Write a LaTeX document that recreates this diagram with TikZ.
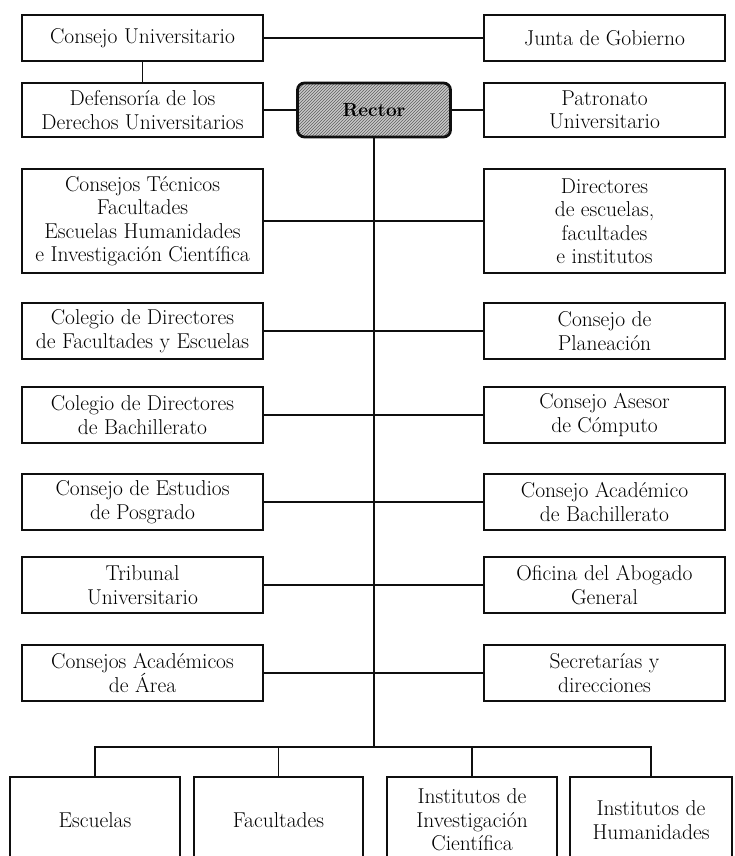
\documentclass[tikz,border=0pt]{standalone}
\usepackage{fontspec}
\usepackage{xcolor}
\usepackage{tikz}
\usetikzlibrary{positioning, patterns}
\definecolor{ink}{RGB}{15, 15, 15}
\definecolor{shade}{RGB}{200, 200, 200}
\definecolor{hatch}{RGB}{95, 95, 95}

\begin{document}
\begin{tikzpicture}[x=1pt, y=-1pt,
            unit/.style={rectangle, draw=ink, line width=1.3pt, minimum width=241pt, minimum height=#1, inner sep=1pt, outer sep=0pt, align=center, font=\fontsize{21.5}{23.5}\selectfont},
            unit/.default=56pt,
            base/.style={unit=86pt, minimum width=#1, anchor=north},
            head/.style={rectangle, rounded corners=7pt, draw=ink, line width=2.8pt, minimum width=153pt, minimum height=54pt, outer sep=0pt, preaction={fill=shade}, pattern=north east lines, pattern color=hatch, font=\bfseries\fontsize{19}{21}\selectfont},
            link/.style={draw=ink, line width=1.6pt}
        ]
            \clip (0,0) rectangle (734,856);

            % left column
            \node (consejo) [unit=46pt] at (142.5,38) {Consejo Universitario};
            \node (defensoria) [unit=54pt] at (142.5,110) {Defensoría de los\\Derechos Universitarios};
            \node (tecnicos) [unit=104pt] at (142.5,221) {Consejos Técnicos\\Facultades\\Escuelas Humanidades\\e Investigación Científica};
            \node (colfac) [unit] at (142.5,331) {Colegio de Directores\\de Facultades y Escuelas};
            \node (colbach) [unit] at (142.5,415) {Colegio de Directores\\de Bachillerato};
            \node (posgrado) [unit] at (142.5,502) {Consejo de Estudios\\de Posgrado};
            \node (tribunal) [unit] at (142.5,585) {Tribunal\\Universitario};
            \node (areas) [unit] at (142.5,673) {Consejos Académicos\\de Área};

            % right column
            \node (junta) [unit=46pt, right=221pt of consejo] {Junta de Gobierno};
            \node (rector) [head, right=34.5pt of defensoria] {Rector};
            \node (patronato) [unit=54pt, right=221pt of defensoria] {Patronato\\Universitario};
            \node (directores) [unit=104pt, right=221pt of tecnicos] {Directores\\de escuelas,\\facultades\\e institutos};
            \node (planeacion) [unit, right=221pt of colfac] {Consejo de\\Planeación};
            \node (computo) [unit, right=221pt of colbach] {Consejo Asesor\\de Cómputo};
            \node (acadbach) [unit, right=221pt of posgrado] {Consejo Académico\\de Bachillerato};
            \node (abogado) [unit, right=221pt of tribunal] {Oficina del Abogado\\General};
            \node (secretarias) [unit, right=221pt of areas] {Secretarías y\\direcciones};

            % bottom row
            \node (escuelas) [base=170pt] at (95,777) {Escuelas};
            \node (facultades) [base=169pt, right=14pt of escuelas] {Facultades};
            \node (instinv) [base=170pt, right=24pt of facultades] {Institutos de\\Investigación\\Científica};
            \node (humanidades) [base=162pt, right=13pt of instinv] {Institutos de\\Humanidades};
            \coordinate (bus) at (rector.south |- 0,747);

            \draw[link] (consejo) -- (junta);
            \draw[link] (consejo) -- (defensoria);
            \draw[link] (defensoria) -- (rector);
            \draw[link] (rector) -- (patronato);
            \draw[link] (rector) -- (bus);
            \draw[link] (tecnicos) -- (directores);
            \draw[link] (colfac) -- (planeacion);
            \draw[link] (colbach) -- (computo);
            \draw[link] (posgrado) -- (acadbach);
            \draw[link] (tribunal) -- (abogado);
            \draw[link] (areas) -- (secretarias);
            \draw[link] (escuelas.north) |- (bus) -| (humanidades.north);
            \draw[link] (facultades.north) -- (facultades.north |- bus);
            \draw[link] (instinv.north) -- (instinv.north |- bus);
        \end{tikzpicture}
\end{document}
